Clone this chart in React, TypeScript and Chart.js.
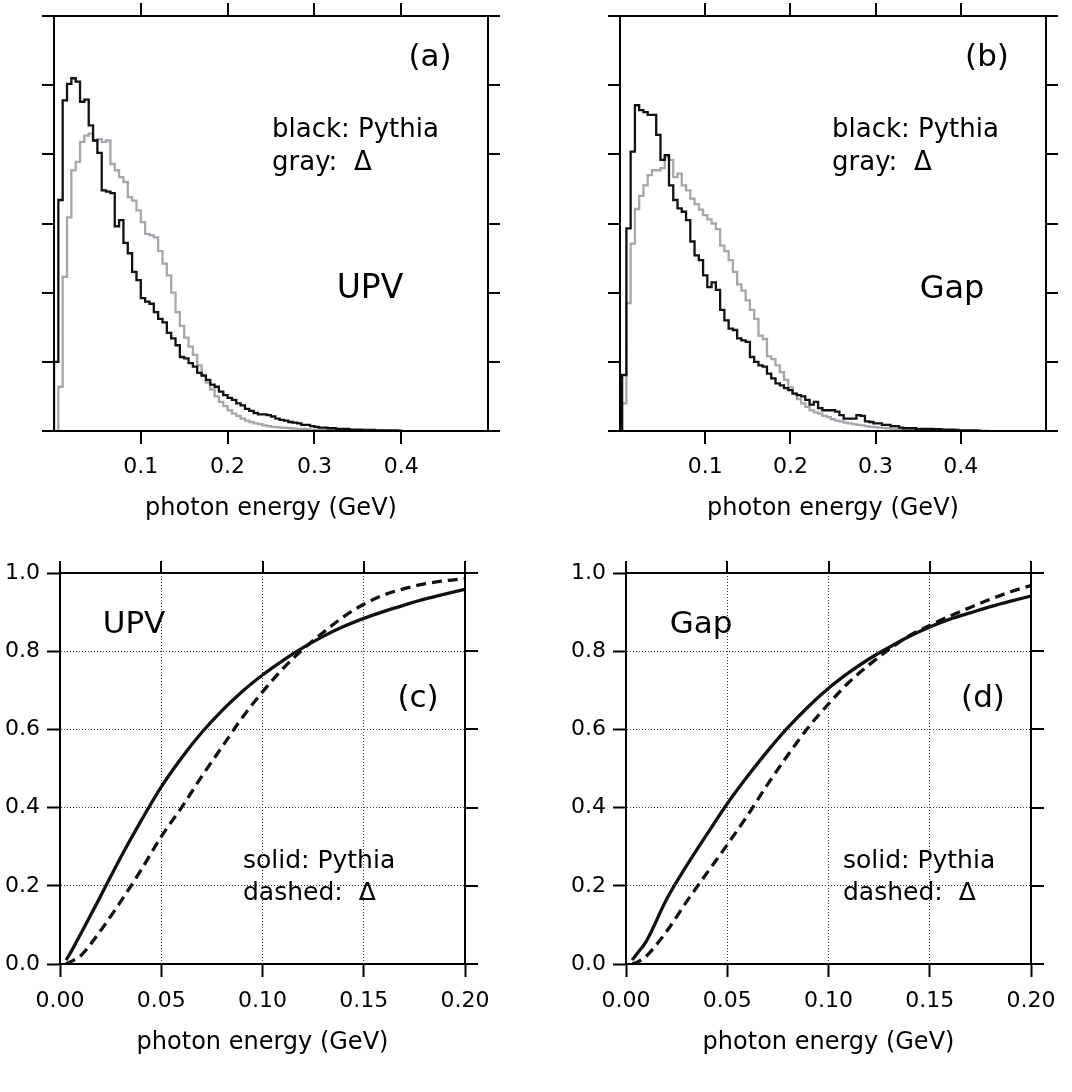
import React, { useEffect, useRef } from 'react';
import { Chart, registerables } from 'chart.js';

Chart.register(...registerables);

const FONT_FAMILY = '"DejaVu Sans", "Liberation Sans", sans-serif';

// ---------- Panels (a)/(b): photon energy spectra, histograms with 0.005 GeV bins ----------
const HIST_BIN_WIDTH = 0.005;
const HIST_A_FIRST_EDGE = 0.0;
const HIST_B_FIRST_EDGE = 0.0025;
const HIST_X_TICKS = [0.1, 0.2, 0.3, 0.4];
const HIST_Y_TICKS = [0, 1, 2, 3, 4, 5, 6];

const UPV_PYTHIA_HIST = [
  1.0, 3.34, 4.78, 5.02, 5.1, 5.05, 4.76, 4.79, 4.42, 4.2, 4.02, 3.48, 3.46, 3.44, 2.96, 3.05,
  2.72, 2.57, 2.3, 2.18, 1.92, 1.87, 1.84, 1.72, 1.62, 1.57, 1.42, 1.34, 1.24, 1.07, 1.05, 0.98,
  0.93, 0.84, 0.8, 0.74, 0.67, 0.64, 0.57, 0.52, 0.48, 0.45, 0.4, 0.37, 0.32, 0.29, 0.26, 0.24,
  0.24, 0.23, 0.21, 0.18, 0.16, 0.15, 0.13, 0.12, 0.11, 0.09, 0.09, 0.07, 0.06, 0.05, 0.05, 0.04,
  0.04, 0.03, 0.03, 0.03, 0.02, 0.02, 0.02, 0.015, 0.015, 0.015, 0.01, 0.01, 0.01, 0.01, 0.01, 0.005,
];
const UPV_DELTA_HIST = [
  0, 0.64, 2.23, 3.09, 3.77, 3.89, 4.18, 4.27, 4.3, 4.2, 4.22, 4.18, 4.2, 3.86, 3.77, 3.67,
  3.6, 3.38, 3.33, 3.19, 3.02, 2.85, 2.83, 2.8, 2.6, 2.42, 2.25, 2.0, 1.72, 1.52, 1.35, 1.22,
  1.1, 0.95, 0.81, 0.7, 0.6, 0.5, 0.42, 0.36, 0.3, 0.25, 0.22, 0.18, 0.15, 0.13, 0.11, 0.1,
  0.08, 0.07, 0.06, 0.055, 0.05, 0.045, 0.04, 0.035, 0.03, 0.03, 0.025, 0.02, 0.02, 0.02, 0.015, 0.015,
  0.015, 0.01, 0.01, 0.01, 0.01, 0.01, 0.01, 0.005, 0.005, 0.005, 0.005, 0.005, 0.005,
];
const GAP_PYTHIA_HIST = [
  0.81, 2.93, 4.04, 4.71, 4.64, 4.61, 4.57, 4.57, 4.28, 3.92, 3.99, 3.55, 3.34, 3.22, 3.17, 3.05,
  2.74, 2.54, 2.47, 2.25, 2.08, 2.15, 2.04, 1.75, 1.6, 1.48, 1.46, 1.34, 1.31, 1.29, 1.07, 1.0,
  0.95, 0.93, 0.83, 0.76, 0.69, 0.66, 0.62, 0.59, 0.54, 0.52, 0.5, 0.45, 0.38, 0.42, 0.33, 0.3,
  0.3, 0.3, 0.28, 0.23, 0.18, 0.18, 0.18, 0.23, 0.22, 0.14, 0.13, 0.11, 0.11, 0.09, 0.09, 0.07,
  0.07, 0.05, 0.04, 0.04, 0.04, 0.03, 0.03, 0.03, 0.03, 0.025, 0.025, 0.02, 0.02, 0.02, 0.015, 0.01,
  0.01, 0.01, 0.01, 0.005,
];
const GAP_DELTA_HIST = [
  0.4, 1.85, 2.71, 3.21, 3.4, 3.55, 3.7, 3.77, 3.77, 3.8, 3.96, 3.92, 3.67, 3.72, 3.55, 3.48,
  3.36, 3.28, 3.2, 3.12, 3.06, 3.0, 2.92, 2.68, 2.6, 2.47, 2.3, 2.12, 2.03, 1.89, 1.75, 1.62,
  1.38, 1.33, 1.08, 1.04, 0.95, 0.85, 0.74, 0.63, 0.54, 0.46, 0.4, 0.35, 0.3, 0.27, 0.25, 0.22,
  0.2, 0.17, 0.15, 0.14, 0.12, 0.11, 0.1, 0.09, 0.08, 0.07, 0.06, 0.055, 0.05, 0.045, 0.04, 0.035,
  0.03, 0.03, 0.025, 0.025, 0.02, 0.02, 0.02, 0.015, 0.015, 0.015, 0.01, 0.01, 0.01, 0.01, 0.01, 0.005,
  0.005, 0.005, 0.005, 0.005, 0.005, 0.005,
];

// ---------- Panels (c)/(d): cumulative fractions ----------
const CUM_ENERGY = [
  0.003, 0.006, 0.01, 0.02, 0.03, 0.04, 0.05, 0.06, 0.07, 0.08, 0.09, 0.1, 0.11, 0.12, 0.13, 0.14,
  0.15, 0.16, 0.17, 0.18, 0.19, 0.2,
];
const UPV_PYTHIA_CUM = [
  0.01, 0.036, 0.075, 0.173, 0.273, 0.366, 0.453, 0.527, 0.592, 0.648, 0.697, 0.739, 0.776, 0.809,
  0.838, 0.863, 0.884, 0.902, 0.918, 0.933, 0.946, 0.958,
];
const UPV_DELTA_CUM = [
  0, 0.008, 0.02, 0.085, 0.16, 0.24, 0.326, 0.4, 0.48, 0.555, 0.63, 0.696, 0.755, 0.805, 0.848,
  0.888, 0.92, 0.944, 0.96, 0.972, 0.98, 0.986,
];
const GAP_PYTHIA_CUM = [
  0.01, 0.03, 0.058, 0.165, 0.252, 0.332, 0.41, 0.48, 0.545, 0.605, 0.658, 0.705, 0.745, 0.78, 0.81,
  0.838, 0.862, 0.882, 0.898, 0.914, 0.928, 0.941,
];
const GAP_DELTA_CUM = [
  0, 0.006, 0.02, 0.083, 0.16, 0.233, 0.305, 0.38, 0.46, 0.535, 0.605, 0.665, 0.72, 0.765, 0.805,
  0.84, 0.866, 0.89, 0.912, 0.933, 0.952, 0.968,
];
const CUM_X_TICKS = [0, 0.05, 0.1, 0.15, 0.2];
const CUM_Y_TICKS = [0, 0.2, 0.4, 0.6, 0.8, 1.0];

const X_TITLE = 'photon energy (GeV)';

type TextItem = { text: string; x: number; y: number; size: number; align: CanvasTextAlign };
type Box = { left: number; right: number; top: number; bottom: number };

function textPlugin(items: TextItem[]) {
  return {
    id: 'panelText',
    afterDraw(chart: any) {
      const ctx: CanvasRenderingContext2D = chart.ctx;
      ctx.save();
      ctx.fillStyle = '#000';
      ctx.textBaseline = 'alphabetic';
      for (const t of items) {
        ctx.font = `${t.size}px ${FONT_FAMILY}`;
        ctx.textAlign = t.align;
        ctx.fillText(t.text, t.x, t.y);
      }
      ctx.restore();
    },
  };
}

function histPoints(firstEdge: number, values: number[]) {
  const pts = [{ x: firstEdge, y: 0 }];
  values.forEach((v, i) => pts.push({ x: firstEdge + i * HIST_BIN_WIDTH, y: v }));
  pts.push({ x: firstEdge + values.length * HIST_BIN_WIDTH, y: 0 });
  return pts;
}

function curvePoints(xs: number[], ys: number[]) {
  return xs.map((x, i) => ({ x, y: ys[i] }));
}

const BORDER = { display: true, color: '#000', width: 2, z: 1 };

function markGrid(length: number) {
  return {
    display: true,
    drawOnChartArea: false,
    drawTicks: true,
    tickLength: length,
    tickWidth: 2,
    tickColor: '#000',
    color: '#000',
    lineWidth: 2,
  };
}

function dottedGrid(length: number, n: number) {
  return {
    display: true,
    drawOnChartArea: true,
    drawTicks: true,
    tickLength: length,
    tickWidth: 2,
    tickColor: '#000',
    lineWidth: 1,
    color: (c: any) => (c.index === 0 || c.index === n - 1 ? 'rgba(0,0,0,0)' : '#3a3a3a'),
  };
}

function fixedTicks(values: number[]) {
  return (scale: any) => {
    scale.ticks = values.map((v) => ({ value: v }));
  };
}

const BASE_OPTIONS = {
  responsive: false,
  animation: false,
  devicePixelRatio: 1,
  events: [] as string[],
  layout: { padding: 0 },
  plugins: { legend: { display: false }, tooltip: { enabled: false }, title: { display: false } },
};

function histConfig(first: number, black: number[], gray: number[], box: Box, texts: TextItem[]) {
  return {
    type: 'line',
    data: {
      datasets: [
        {
          data: histPoints(first, black),
          borderColor: '#111111',
          borderWidth: 2.3,
          stepped: 'before',
          pointRadius: 0,
          fill: false,
          xAxisID: 'x',
          yAxisID: 'y',
        },
        {
          data: histPoints(first, gray),
          borderColor: '#a3a8ae',
          borderWidth: 2.3,
          stepped: 'before',
          pointRadius: 0,
          fill: false,
          xAxisID: 'x',
          yAxisID: 'y',
        },
      ],
    },
    options: {
      ...BASE_OPTIONS,
      scales: {
        x: {
          type: 'linear',
          position: 'bottom',
          min: 0,
          max: 0.5,
          afterBuildTicks: fixedTicks(HIST_X_TICKS),
          ticks: {
            callback: (v: any) => Number(v).toFixed(1),
            color: '#000',
            font: { size: 22, family: FONT_FAMILY },
            padding: 10,
            maxRotation: 0,
            autoSkip: false,
          },
          grid: markGrid(13),
          border: BORDER,
          title: {
            display: true,
            text: X_TITLE,
            color: '#000',
            font: { size: 24, family: FONT_FAMILY },
            padding: { top: 0, bottom: 17 },
          },
          afterFit: (s: any) => {
            s.height = box.bottom;
          },
        },
        x2: {
          type: 'linear',
          position: 'top',
          min: 0,
          max: 0.5,
          afterBuildTicks: fixedTicks(HIST_X_TICKS),
          ticks: { display: false },
          grid: markGrid(13),
          border: BORDER,
          afterFit: (s: any) => {
            s.height = box.top;
          },
        },
        y: {
          type: 'linear',
          position: 'left',
          min: 0,
          max: 6,
          afterBuildTicks: fixedTicks(HIST_Y_TICKS),
          ticks: { display: false },
          grid: markGrid(12),
          border: BORDER,
          afterFit: (s: any) => {
            s.width = box.left;
          },
        },
        y2: {
          type: 'linear',
          position: 'right',
          min: 0,
          max: 6,
          afterBuildTicks: fixedTicks(HIST_Y_TICKS),
          ticks: { display: false },
          grid: markGrid(12),
          border: BORDER,
          afterFit: (s: any) => {
            s.width = box.right;
          },
        },
      },
    },
    plugins: [textPlugin(texts)],
  };
}

function cumConfig(solid: number[], dashed: number[], box: Box, texts: TextItem[]) {
  return {
    type: 'line',
    data: {
      datasets: [
        {
          data: curvePoints(CUM_ENERGY, solid),
          borderColor: '#111111',
          borderWidth: 3.3,
          pointRadius: 0,
          fill: false,
          cubicInterpolationMode: 'monotone',
          xAxisID: 'x',
          yAxisID: 'y',
        },
        {
          data: curvePoints(CUM_ENERGY, dashed),
          borderColor: '#111111',
          borderWidth: 3.3,
          borderDash: [10, 6],
          pointRadius: 0,
          fill: false,
          cubicInterpolationMode: 'monotone',
          xAxisID: 'x',
          yAxisID: 'y',
        },
      ],
    },
    options: {
      ...BASE_OPTIONS,
      scales: {
        x: {
          type: 'linear',
          position: 'bottom',
          min: 0,
          max: 0.2,
          afterBuildTicks: fixedTicks(CUM_X_TICKS),
          ticks: {
            callback: (v: any) => Number(v).toFixed(2),
            color: '#000',
            font: { size: 22, family: FONT_FAMILY },
            padding: 11,
            maxRotation: 0,
            autoSkip: false,
          },
          grid: dottedGrid(13, CUM_X_TICKS.length),
          border: { ...BORDER, dash: [1, 2] },
          title: {
            display: true,
            text: X_TITLE,
            color: '#000',
            font: { size: 24, family: FONT_FAMILY },
            padding: { top: 0, bottom: 35 },
          },
          afterFit: (s: any) => {
            s.height = box.bottom;
          },
        },
        x2: {
          type: 'linear',
          position: 'top',
          min: 0,
          max: 0.2,
          afterBuildTicks: fixedTicks(CUM_X_TICKS),
          ticks: { display: false },
          grid: markGrid(12),
          border: BORDER,
          afterFit: (s: any) => {
            s.height = box.top;
          },
        },
        y: {
          type: 'linear',
          position: 'left',
          min: 0,
          max: 1,
          afterBuildTicks: fixedTicks(CUM_Y_TICKS),
          ticks: {
            callback: (v: any) => Number(v).toFixed(1),
            color: '#000',
            font: { size: 22, family: FONT_FAMILY },
            padding: 7,
            autoSkip: false,
          },
          grid: dottedGrid(13, CUM_Y_TICKS.length),
          border: { ...BORDER, dash: [1, 2] },
          afterFit: (s: any) => {
            s.width = box.left;
          },
        },
        y2: {
          type: 'linear',
          position: 'right',
          min: 0,
          max: 1,
          afterBuildTicks: fixedTicks(CUM_Y_TICKS),
          ticks: { display: false },
          grid: markGrid(13),
          border: BORDER,
          afterFit: (s: any) => {
            s.width = box.right;
          },
        },
      },
    },
    plugins: [textPlugin(texts)],
  };
}

function ChartPanel(props: { left: number; top: number; width: number; height: number; build: () => any }) {
  const ref = useRef<HTMLCanvasElement>(null);
  useEffect(() => {
    const chart = new Chart(ref.current as HTMLCanvasElement, props.build());
    return () => chart.destroy();
  }, []);
  return (
    <canvas
      ref={ref}
      width={props.width}
      height={props.height}
      style={{ position: 'absolute', left: props.left, top: props.top, width: props.width, height: props.height }}
    />
  );
}

const TEXTS_A: TextItem[] = [
  { text: '(a)', x: 430, y: 66, size: 31, align: 'center' },
  { text: 'black: Pythia', x: 272, y: 137, size: 26, align: 'left' },
  { text: 'gray:  Δ', x: 272, y: 170, size: 26, align: 'left' },
  { text: 'UPV', x: 370, y: 298, size: 33, align: 'center' },
];
const TEXTS_B: TextItem[] = [
  { text: '(b)', x: 451, y: 66, size: 31, align: 'center' },
  { text: 'black: Pythia', x: 296, y: 137, size: 26, align: 'left' },
  { text: 'gray:  Δ', x: 296, y: 170, size: 26, align: 'left' },
  { text: 'Gap', x: 416, y: 298, size: 32, align: 'center' },
];
const TEXTS_C: TextItem[] = [
  { text: 'UPV', x: 134, y: 93, size: 31, align: 'center' },
  { text: '(c)', x: 418, y: 167, size: 31, align: 'center' },
  { text: 'solid: Pythia', x: 243, y: 328, size: 25, align: 'left' },
  { text: 'dashed:  Δ', x: 243, y: 360, size: 25, align: 'left' },
];
const TEXTS_D: TextItem[] = [
  { text: 'Gap', x: 165, y: 93, size: 31, align: 'center' },
  { text: '(d)', x: 447, y: 167, size: 31, align: 'center' },
  { text: 'solid: Pythia', x: 307, y: 328, size: 25, align: 'left' },
  { text: 'dashed:  Δ', x: 307, y: 360, size: 25, align: 'left' },
];

export default function App() {
  return (
    <div style={{ position: 'absolute', left: 0, top: 0, width: 1072, height: 1092, background: '#fff' }}>
      <ChartPanel
        left={0}
        top={0}
        width={536}
        height={540}
        build={() =>
          histConfig(HIST_A_FIRST_EDGE, UPV_PYTHIA_HIST, UPV_DELTA_HIST, { left: 54, right: 48, top: 16, bottom: 109 }, TEXTS_A)
        }
      />
      <ChartPanel
        left={536}
        top={0}
        width={536}
        height={540}
        build={() =>
          histConfig(HIST_B_FIRST_EDGE, GAP_PYTHIA_HIST, GAP_DELTA_HIST, { left: 84, right: 26, top: 16, bottom: 109 }, TEXTS_B)
        }
      />
      <ChartPanel
        left={0}
        top={540}
        width={536}
        height={552}
        build={() => cumConfig(UPV_PYTHIA_CUM, UPV_DELTA_CUM, { left: 60, right: 71, top: 33, bottom: 128 }, TEXTS_C)}
      />
      <ChartPanel
        left={536}
        top={540}
        width={536}
        height={552}
        build={() => cumConfig(GAP_PYTHIA_CUM, GAP_DELTA_CUM, { left: 90, right: 41, top: 33, bottom: 128 }, TEXTS_D)}
      />
    </div>
  );
}
